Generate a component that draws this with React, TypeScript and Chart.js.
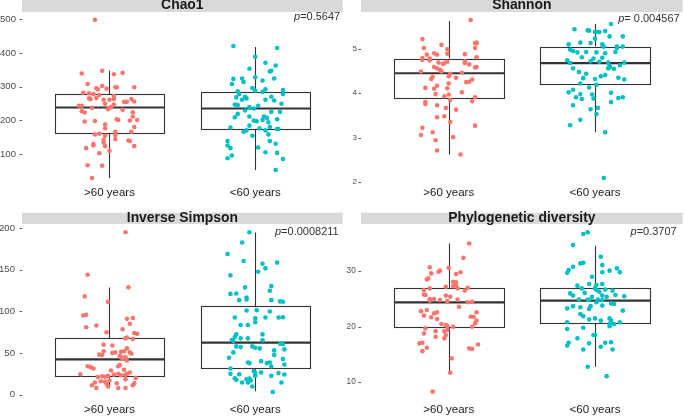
import React, { useEffect, useRef } from "react";
import { Chart, registerables } from "chart.js";

Chart.register(...registerables);

const FONT = "'Liberation Sans', Arial, Helvetica, sans-serif";
const groups = [">60 years", "<60 years"];
const colorOld = "#F8766D";
const colorYoung = "#00BFC4";

// ---------- Chao1 ----------
const chaoOld = [499,339,347,337,341,308,295,292,302,294,298,298,298,282,280,278,275,272,265,263,266,261,261,263,263,256,255,254,255,243,243,237,249,239,247,227,223,233,231,224,196,198,203,201,199,201,188,211,176,180,166,166,154,160,158,156,144,142,134,140,138,129,125,123,117,123,109,102,66,65,28];
const chaoOldJit = [-0.10,-0.19,-0.05,0.03,0.09,-0.15,-0.09,-0.08,-0.05,-0.02,0.04,0.05,0.17,-0.18,-0.14,-0.11,-0.07,0.03,-0.14,-0.13,-0.09,-0.04,0.00,0.03,0.15,0.17,0.10,0.11,0.12,-0.21,-0.19,-0.12,-0.03,0.01,0.03,-0.19,-0.17,-0.01,0.09,0.16,-0.17,-0.10,0.05,0.06,0.14,0.19,-0.03,0.16,-0.03,0.17,0.04,0.15,-0.03,-0.07,-0.10,0.04,0.04,-0.04,-0.04,0.13,0.14,-0.11,-0.11,-0.03,-0.16,0.17,0.00,-0.07,-0.15,-0.05,-0.12];
const chaoYoung = [421,415,389,371,363,353,347,345,324,323,324,328,318,308,314,296,292,290,288,286,284,278,278,268,270,265,270,261,261,259,247,245,249,239,235,243,229,225,225,219,209,211,211,207,201,203,199,197,194,184,178,176,180,174,170,170,166,154,158,174,138,138,130,125,117,119,105,103,95,87,85,52];
const chaoYoungJit = [-0.15,0.15,0.00,0.07,0.14,-0.04,0.11,0.10,0.13,-0.15,-0.09,0.00,0.05,-0.16,-0.08,-0.02,0.07,0.19,0.00,-0.12,0.05,0.19,-0.11,-0.13,-0.07,-0.06,0.11,0.07,-0.09,0.13,-0.14,-0.12,0.18,-0.04,-0.01,0.02,-0.07,0.11,0.17,-0.12,-0.14,-0.04,0.06,0.08,0.05,0.15,-0.01,0.01,0.09,-0.04,-0.17,0.03,0.10,0.15,0.07,-0.06,-0.08,-0.02,0.09,0.16,-0.19,0.10,0.14,-0.19,-0.17,0.02,0.07,0.15,-0.16,-0.19,0.19,0.14];
// [lower whisker, Q1, median, Q3, upper whisker]
const chaoBoxOld = [28, 161, 238, 277, 347];
const chaoBoxYoung = [52, 175, 235, 285, 418];
const chaoTicks = [100, 200, 300, 400, 500];

// ---------- Shannon ----------
const shannonOld = [5.65,5.22,5.14,5.13,5.12,5.02,5.09,4.99,5.02,4.90,4.87,4.87,4.88,4.89,4.79,4.75,4.78,4.74,4.81,4.69,4.71,4.68,4.66,4.72,4.68,4.65,4.59,4.56,4.53,4.49,4.49,4.59,4.58,4.44,4.46,4.38,4.37,4.32,4.35,4.26,4.25,4.31,4.17,4.12,4.10,4.11,4.22,4.02,3.98,3.97,3.93,3.91,3.82,3.85,3.80,3.76,3.73,3.67,3.63,3.48,3.46,3.35,3.27,3.22,3.06,3.12,2.94,3.01,2.71,2.62];
const shannonOldJit = [0.15,-0.18,0.19,0.18,0.19,-0.17,-0.05,-0.01,0.18,-0.10,-0.15,-0.08,0.11,-0.01,-0.18,-0.18,-0.13,-0.13,0.19,-0.07,-0.01,-0.03,-0.04,0.11,0.11,0.14,-0.10,-0.08,-0.06,-0.05,-0.19,0.19,0.18,0.01,0.09,0.00,-0.11,-0.12,0.05,0.14,0.12,0.16,-0.08,-0.16,-0.10,-0.01,0.00,0.09,-0.09,0.00,-0.03,0.18,0.16,0.01,-0.16,-0.16,-0.08,-0.02,0.05,-0.03,-0.08,0.01,0.18,-0.18,-0.19,-0.11,-0.09,0.03,-0.08,0.08];
const shannonYoung = [5.44,5.42,5.41,5.38,5.38,5.38,5.40,5.56,5.23,5.28,5.28,5.10,5.14,5.13,5.10,5.05,5.05,5.05,5.02,4.98,4.95,4.92,4.93,4.92,4.90,4.93,4.81,4.78,4.74,4.72,4.71,4.80,4.69,4.69,4.68,4.62,4.58,4.56,4.55,4.63,4.56,4.48,4.44,4.38,4.32,4.34,4.41,4.35,4.31,4.22,4.19,4.13,4.08,4.02,3.98,3.97,4.01,3.91,3.87,3.88,3.89,3.91,3.80,3.73,3.67,3.64,3.53,3.40,3.28,3.12,2.09];
const shannonYoungJit = [-0.14,-0.05,-0.04,0.00,0.01,0.03,0.07,0.11,0.00,0.10,0.19,-0.18,-0.10,-0.03,0.05,0.06,0.15,0.19,0.15,-0.17,-0.15,-0.12,-0.06,0.01,0.07,0.14,-0.09,-0.01,-0.19,-0.03,0.03,0.05,0.09,0.20,-0.17,0.10,0.10,0.09,0.13,0.17,-0.15,-0.11,-0.06,0.04,0.00,-0.08,0.07,0.16,0.20,-0.10,0.01,-0.04,-0.15,-0.18,-0.10,-0.02,0.11,-0.13,-0.09,-0.01,0.16,0.19,0.11,-0.15,0.02,-0.03,0.01,-0.10,-0.17,0.07,0.06];
const shannonBoxOld = [2.62, 3.89, 4.45, 4.78, 5.63];
const shannonBoxYoung = [3.12, 4.20, 4.68, 5.05, 5.56];
const shannonTicks = [2, 3, 4, 5];

// ---------- Inverse Simpson ----------
const invOld = [195,144,118,111.5,129,95,96,81,83,91,92,75,78.5,85,74,73,67.6,68.4,66.8,60,59,52,48,47.5,50,50.7,51.5,52,55.5,50.7,49,46.7,45,45,42.7,41,34,35.4,29,34,33,31.4,24.5,29.8,25,26.6,25,24,23.3,23.7,22,21,21.3,22.5,20,16,14.5,11.3,15.3,17,13,13.7,18.5,13.7,11.3,8,9.7,8,8];
const invOldJit = [0.11,-0.15,-0.17,-0.01,0.13,-0.18,-0.16,-0.16,-0.09,0.12,0.16,-0.02,0.09,0.14,0.17,0.19,0.11,0.12,0.16,-0.04,0.02,-0.04,-0.07,-0.05,0.02,0.04,0.08,0.10,0.12,0.14,0.15,0.07,0.08,0.11,0.09,0.12,0.06,0.07,0.01,-0.15,-0.13,-0.11,-0.20,0.10,0.12,0.14,0.06,0.03,0.08,0.11,-0.05,-0.08,-0.03,-0.01,0.18,-0.06,-0.10,-0.12,-0.03,0.00,-0.02,0.05,0.11,0.17,0.16,-0.09,-0.01,0.06,0.11];
const invYoung = [195,182.7,169,160.6,157.3,151.7,158.6,147.7,143.3,130.4,128.8,124.7,121,121.5,113.5,114.3,116.7,113.5,112,111.5,101,101.4,99.8,92.6,91.8,86.9,92.6,92.6,93,83.7,83.7,72.4,69.2,72.4,67.6,67.6,65.6,64.4,65.2,57.9,57.1,57.9,56.3,55.5,61.2,60.8,54.3,53.1,50.7,47.5,44.3,42.7,38.6,37.8,40.2,37.8,38.6,36.2,31.4,33.8,28.2,25.8,26.6,22.5,24.9,24.5,22.5,25.8,24.1,19.7,17.7,14.5,18.5,19.3,16.9,14.5,9.7,14.5,3.2];
const invYoungJit = [-0.04,-0.09,-0.19,-0.08,0.05,0.07,0.15,0.02,-0.17,0.11,-0.07,0.10,-0.17,-0.13,-0.11,-0.06,-0.06,0.11,0.17,0.19,-0.06,0.01,0.10,-0.14,0.00,0.00,0.07,0.16,0.19,-0.10,-0.05,-0.13,-0.14,0.05,-0.10,-0.05,-0.16,-0.15,0.05,-0.13,-0.10,-0.02,0.00,0.03,0.17,0.19,0.20,0.13,-0.15,0.13,-0.18,0.19,-0.05,-0.04,0.04,0.08,0.10,0.20,-0.17,0.11,-0.01,0.00,0.04,0.00,-0.17,-0.11,0.11,0.16,0.20,-0.14,-0.13,-0.09,-0.06,-0.04,-0.03,-0.05,-0.02,0.18,0.12];
const invBoxOld = [7.6, 22.5, 42.3, 67.6, 128.8];
const invBoxYoung = [4, 32.2, 62.4, 106.2, 194.8];
const invTicks = [0, 50, 100, 150, 200];

// ---------- Phylogenetic diversity ----------
const pdOld = [35.0,32.4,30.7,30.6,30.1,29.9,29.8,29.5,29.6,28.7,28.5,28.1,28.0,27.5,27.3,27.2,26.9,27.0,26.9,26.5,26.6,25.8,25.7,25.6,25.4,25.0,25.0,24.8,24.9,24.7,24.6,24.5,24.4,23.6,22.8,23.0,22.4,22.6,22.0,22.6,21.7,21.4,21.8,21.8,21.1,20.6,20.5,20.3,20.1,20.0,20.0,19.7,19.2,19.2,19.4,18.5,18.8,18.2,17.9,17.0,17.1,16.2,15.6,16.1,16.0,16.8,14.3,11.7,8.3];
const pdOldJit = [0.14,0.10,-0.13,0.00,-0.06,-0.07,0.08,0.05,-0.12,-0.14,-0.15,0.03,0.05,0.05,0.03,-0.02,0.06,0.13,-0.13,0.11,-0.17,-0.17,-0.16,-0.02,0.01,-0.13,-0.10,-0.06,0.06,-0.13,-0.01,0.16,0.13,0.07,-0.19,-0.15,-0.10,-0.08,-0.17,0.19,-0.12,-0.08,0.15,0.17,0.19,0.18,-0.05,-0.02,-0.01,0.03,0.16,-0.16,-0.09,-0.03,-0.01,-0.02,-0.17,-0.09,-0.03,-0.20,-0.18,-0.15,-0.18,0.14,0.16,0.20,0.02,0.01,-0.11];
const pdYoung = [37.0,36.7,34.7,32.6,31.4,31.5,31.1,30.8,30.2,30.5,29.7,30.1,29.8,29.8,29.0,27.4,27.7,27.5,27.7,26.9,26.9,26.7,26.3,26.6,26.5,26.0,26.1,25.6,25.4,25.6,25.4,25.7,25.5,24.9,24.9,24.8,24.9,24.8,24.4,24.2,24.1,23.3,23.7,23.5,23.7,23.2,23.8,22.9,22.3,21.9,21.3,21.5,21.5,21.1,21.1,20.8,20.8,20.5,20.5,20.1,19.6,19.8,18.5,18.5,17.9,17.1,16.6,17.0,17.1,17.2,16.4,15.9,15.9,12.8,11.1];
const pdYoungJit = [-0.05,-0.08,-0.15,0.04,-0.10,-0.08,0.05,-0.15,-0.18,0.15,-0.19,0.10,0.05,0.17,-0.02,-0.12,-0.04,0.01,0.05,-0.09,0.00,0.07,0.03,0.01,0.12,-0.17,-0.07,-0.15,-0.02,0.05,0.08,0.14,0.20,-0.11,-0.05,-0.04,0.02,0.05,0.01,0.11,0.13,-0.19,-0.15,-0.10,-0.03,-0.04,0.05,0.19,-0.10,-0.08,-0.04,0.00,0.10,0.11,0.04,0.17,-0.19,0.10,0.13,0.10,-0.19,-0.08,-0.01,0.00,-0.12,-0.18,-0.19,-0.04,0.07,0.11,0.04,-0.08,0.12,-0.05,0.08];
const pdBoxOld = [11.6, 19.9, 24.4, 26.9, 35.0];
const pdBoxYoung = [12.8, 20.6, 24.7, 27.0, 34.6];
const pdTicks = [10, 20, 30];

const titles = ["Chao1", "Shannon", "Inverse Simpson", "Phylogenetic diversity"];
const pTexts = ["=0.5647", "= 0.004567", "=0.0008211", "=0.3707"];

type PanelCfg = {
  title: string; pText: string;
  old: number[]; oldJit: number[]; young: number[]; youngJit: number[];
  boxOld: number[]; boxYoung: number[]; ticks: number[];
  yMin: number; yMax: number;
  left: number; top: number; w: number; h: number;
  padTop: number; padRight: number; yW: number; xH: number; xPad: number;
  yPad: number; yFont: number; stripH: number; titleOff: number;
  pRight: number; pTop: number;
};

const panels: PanelCfg[] = [
  { title: titles[0], pText: pTexts[0], old: chaoOld, oldJit: chaoOldJit, young: chaoYoung, youngJit: chaoYoungJit,
    boxOld: chaoBoxOld, boxYoung: chaoBoxYoung, ticks: chaoTicks, yMin: 4.5, yMax: 522,
    left: 0, top: 0, w: 345, h: 205, padTop: 12, padRight: 1, yW: 22, xH: 19, xPad: 0,
    yPad: 6, yFont: 9.6, stripH: 12, titleOff: 2.7, pRight: 2.5, pTop: 4.8 },
  { title: titles[1], pText: pTexts[1], old: shannonOld, oldJit: shannonOldJit, young: shannonYoung, youngJit: shannonYoungJit,
    boxOld: shannonBoxOld, boxYoung: shannonBoxYoung, ticks: shannonTicks, yMin: 1.91, yMax: 5.83,
    left: 340, top: 0, w: 345, h: 205, padTop: 12, padRight: 2, yW: 21, xH: 19, xPad: 0,
    yPad: 4, yFont: 8, stripH: 12, titleOff: 3.3, pRight: 3, pTop: 7 },
  { title: titles[2], pText: pTexts[2], old: invOld, oldJit: invOldJit, young: invYoung, youngJit: invYoungJit,
    boxOld: invBoxOld, boxYoung: invBoxYoung, ticks: invTicks, yMin: -6.5, yMax: 205,
    left: 0, top: 205, w: 345, h: 211, padTop: 19, padRight: 1, yW: 22, xH: 16, xPad: 3,
    yPad: 7, yFont: 9.6, stripH: 11.3, titleOff: 2, pRight: 4, pTop: 7.7 },
  { title: titles[3], pText: pTexts[3], old: pdOld, oldJit: pdOldJit, young: pdYoung, youngJit: pdYoungJit,
    boxOld: pdBoxOld, boxYoung: pdBoxYoung, ticks: pdTicks, yMin: 6.8, yMax: 38.5,
    left: 340, top: 205, w: 345, h: 211, padTop: 19, padRight: 2, yW: 21, xH: 16, xPad: 3,
    yPad: 5.3, yFont: 8.2, stripH: 11.3, titleOff: 2, pRight: 6, pTop: 8 },
];

function Panel({ cfg }: { cfg: PanelCfg }) {
  const ref = useRef<HTMLCanvasElement>(null);
  useEffect(() => {
    if (!ref.current) return;
    const deco = {
      id: "panelDeco",
      beforeDatasetsDraw(chart: any) {
        const { ctx, scales } = chart;
        const x = scales.x, y = scales.y;
        [cfg.boxOld, cfg.boxYoung].forEach((b, i) => {
          const c = i + 1;
          const xl = Math.round(x.getPixelForValue(c - 0.375)) + 0.5;
          const xr = Math.round(x.getPixelForValue(c + 0.375)) + 0.5;
          const xc = Math.round(x.getPixelForValue(c)) + 0.5;
          const [lo, q1, med, q3, hi] = b.map((v) => y.getPixelForValue(v));
          ctx.save();
          ctx.strokeStyle = "#333333";
          ctx.lineWidth = 1.1;
          ctx.beginPath();
          ctx.moveTo(xc, lo); ctx.lineTo(xc, q1);
          ctx.moveTo(xc, q3); ctx.lineTo(xc, hi);
          ctx.stroke();
          ctx.fillStyle = "#ffffff";
          ctx.fillRect(xl, q3, xr - xl, q1 - q3);
          ctx.strokeRect(xl, Math.round(q3) + 0.5, xr - xl, Math.round(q1) - Math.round(q3));
          ctx.lineWidth = 2.2;
          ctx.beginPath();
          ctx.moveTo(xl, med); ctx.lineTo(xr, med);
          ctx.stroke();
          ctx.restore();
        });
      },
      afterDraw(chart: any) {
        const { ctx, chartArea: a, scales } = chart;
        const y = scales.y;
        ctx.save();
        // strip
        ctx.fillStyle = "#D9D9D9";
        ctx.fillRect(a.left, a.top - cfg.stripH, a.right - a.left, cfg.stripH);
        ctx.fillStyle = "#1A1A1A";
        ctx.font = `bold 13.9px ${FONT}`;
        ctx.textAlign = "center";
        ctx.textBaseline = "alphabetic";
        ctx.fillText(cfg.title, (a.left + a.right) / 2, a.top - cfg.titleOff);
        // p-value
        ctx.font = `11px ${FONT}`;
        ctx.textAlign = "right";
        ctx.textBaseline = "middle";
        ctx.fillStyle = "#333333";
        const px = a.right - cfg.pRight, py = a.top + cfg.pTop;
        ctx.fillText(cfg.pText, px, py);
        const w = ctx.measureText(cfg.pText).width;
        ctx.font = `italic 11px ${FONT}`;
        ctx.fillText("p", px - w, py);
        // y tick marks
        ctx.strokeStyle = "#555555";
        ctx.lineWidth = 1;
        cfg.ticks.forEach((v) => {
          const ty = Math.round(y.getPixelForValue(v)) + 0.5;
          ctx.beginPath();
          ctx.moveTo(a.left - 2.5, ty);
          ctx.lineTo(a.left, ty);
          ctx.stroke();
        });
        ctx.restore();
      },
    };
    const chart = new Chart(ref.current, {
      type: "scatter",
      data: {
        datasets: [
          {
            data: cfg.old.map((v, i) => ({ x: 1 + cfg.oldJit[i], y: v })),
            pointBackgroundColor: colorOld,
            pointBorderWidth: 0,
            pointRadius: 2.3,
            pointHoverRadius: 2.3,
          },
          {
            data: cfg.young.map((v, i) => ({ x: 2 + cfg.youngJit[i], y: v })),
            pointBackgroundColor: colorYoung,
            pointBorderWidth: 0,
            pointRadius: 2.3,
            pointHoverRadius: 2.3,
          },
        ],
      },
      options: {
        responsive: false,
        animation: false,
        devicePixelRatio: 1,
        events: [],
        layout: { padding: { top: cfg.padTop, right: cfg.padRight, left: 0, bottom: 0 } },
        plugins: { legend: { display: false }, tooltip: { enabled: false }, title: { display: false } },
        scales: {
          x: {
            type: "linear",
            min: 0.4,
            max: 2.6,
            grid: { display: false, drawTicks: false },
            border: { display: false },
            afterBuildTicks: (s: any) => { s.ticks = [{ value: 1 }, { value: 2 }]; },
            afterFit: (s: any) => { s.height = cfg.xH; },
            ticks: {
              padding: cfg.xPad,
              maxRotation: 0,
              autoSkip: false,
              color: "#1A1A1A",
              font: { family: FONT, size: 11.5 },
              callback: (v: any) => groups[Math.round(Number(v)) - 1] ?? "",
            },
          },
          y: {
            type: "linear",
            min: cfg.yMin,
            max: cfg.yMax,
            grid: { display: false, drawTicks: false },
            border: { display: false },
            afterBuildTicks: (s: any) => { s.ticks = cfg.ticks.map((v) => ({ value: v })); },
            afterFit: (s: any) => { s.width = cfg.yW; },
            ticks: {
              padding: cfg.yPad,
              color: "#4D4D4D",
              font: { family: FONT, size: cfg.yFont },
              callback: (v: any) => String(v),
            },
          },
        },
      },
      plugins: [deco],
    } as any);
    return () => chart.destroy();
  }, [cfg]);
  return (
    <canvas
      ref={ref}
      width={cfg.w}
      height={cfg.h}
      style={{ position: "absolute", left: cfg.left, top: cfg.top, width: cfg.w, height: cfg.h }}
    />
  );
}

export default function App() {
  return (
    <div style={{ position: "fixed", left: 0, top: 0, width: 685, height: 416, background: "#ffffff", overflow: "hidden" }}>
      {panels.map((p) => (
        <Panel key={p.title} cfg={p} />
      ))}
    </div>
  );
}
